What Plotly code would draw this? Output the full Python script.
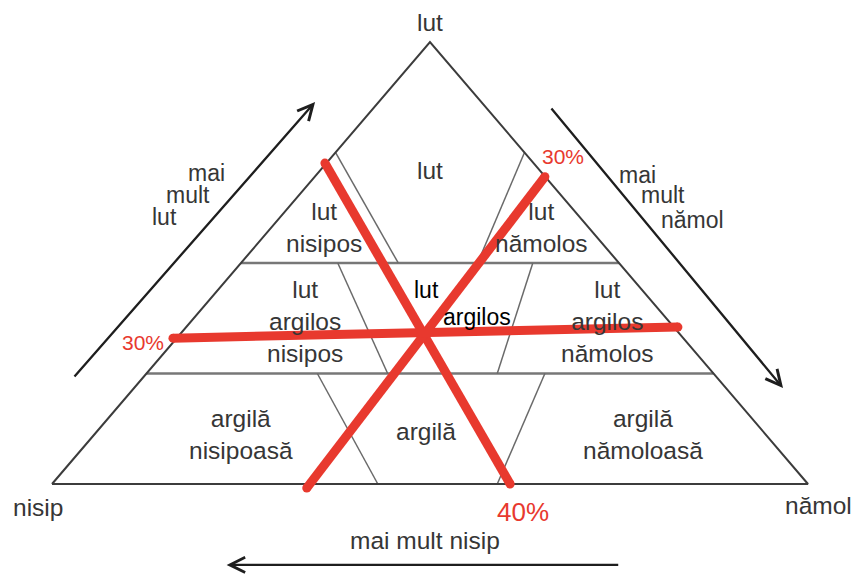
import plotly.graph_objects as go

# diagram units: base runs 0..100 (nisip -> nămol), height 0..100 (up to "lut")
triangle_x = [0, 50, 100, 0]
triangle_y = [0, 100, 0, 0]

# horizontal class boundaries (heights)
band_levels = [25, 50]

# sloping class boundaries (top point -> bottom point)
edge_x0 = [37.5, 62.5, 37.8, 63.6, 35.1, 65.2]
edge_y0 = [75, 75, 50, 50, 25, 25]
edge_x1 = [45.8, 56.3, 44.4, 58.9, 43.1, 58.9]
edge_y1 = [50, 50, 25, 25, 0, 0]

# red reading lines drawn over the diagram
red_x0 = [36.1, 65.2, 16.0]
red_y0 = [72.6, 69.5, 33.0]
red_x1 = [60.6, 33.7, 82.8]
red_y1 = [0.0, -0.9, 35.5]

# soil class names
class_text = ["lut", "lut<br>nisipos", "lut<br>nămolos", "lut<br>argilos<br>nisipos",
              "lut<br>argilos<br>nămolos", "argilă<br>nisipoasă", "argilă", "argilă<br>nămoloasă"]
class_x = [50.0, 36.0, 64.8, 33.5, 73.5, 25.0, 49.5, 78.2]
class_y = [71.0, 58.1, 58.1, 36.7, 36.7, 11.1, 11.8, 11.1]

# corner names
corner_text = ["lut", "nisip", "nămol"]
corner_x = [50.0, -1.9, 101.4]
corner_y = [104.5, -5.4, -4.8]

# "mai mult ..." words
side_text = ["mai", "mult", "lut", "mai", "mult", "nămol"]
side_x = [20.5, 18.0, 14.9, 77.5, 80.8, 84.7]
side_y = [70.4, 65.4, 60.4, 69.9, 65.4, 59.7]

# arrows: tail -> head
arrow_x0 = [2.8, 65.9, 75.1]
arrow_y0 = [24.0, 85.3, -18.3]
arrow_x1 = [34.8, 96.7, 23.1]
arrow_y1 = [86.4, 21.7, -18.3]

# red percentage marks
pct_text = ["30%", "30%", "40%"]
pct_x = [12.0, 67.6, 62.3]
pct_y = [32.1, 74.0, -6.3]
pct_size = [21, 21, 26]

GREY_TXT = "#363636"
RED = "#E8392E"
FONT = "Liberation Sans, Arial, sans-serif"
TXT = 24.5

fig = go.Figure()

# inner boundaries
for lv in band_levels:
    fig.add_trace(go.Scatter(x=[lv / 2, 100 - lv / 2], y=[lv, lv], mode="lines",
                             line=dict(color="#777777", width=2.4), hoverinfo="skip"))
for i in range(len(edge_x0)):
    fig.add_trace(go.Scatter(x=[edge_x0[i], edge_x1[i]], y=[edge_y0[i], edge_y1[i]], mode="lines",
                             line=dict(color="#6a6a6a", width=1.5), hoverinfo="skip"))

# outer triangle
fig.add_trace(go.Scatter(x=triangle_x, y=triangle_y, mode="lines",
                         line=dict(color="#3c3c3c", width=2), hoverinfo="skip"))

# labels
for t, x, y in zip(class_text, class_x, class_y):
    fig.add_annotation(x=x, y=y, text=t, showarrow=False,
                       font=dict(family=FONT, size=TXT, color=GREY_TXT))
fig.add_annotation(x=49.6, y=43.9, text="lut", showarrow=False,
                   font=dict(family=FONT, size=23, color="#000000"))
fig.add_annotation(x=56.2, y=37.8, text="argilos", showarrow=False,
                   font=dict(family=FONT, size=23, color="#000000"))

# red lines
for i in range(len(red_x0)):
    fig.add_trace(go.Scatter(x=[red_x0[i], red_x1[i]], y=[red_y0[i], red_y1[i]], mode="lines+markers",
                             line=dict(color=RED, width=9), marker=dict(color=RED, size=9),
                             hoverinfo="skip"))

for t, x, y in zip(corner_text, corner_x, corner_y):
    fig.add_annotation(x=x, y=y, text=t, showarrow=False,
                       font=dict(family=FONT, size=TXT, color=GREY_TXT))
for t, x, y in zip(side_text, side_x, side_y):
    fig.add_annotation(x=x, y=y, text=t, showarrow=False,
                       font=dict(family=FONT, size=23, color=GREY_TXT))
fig.add_annotation(x=49.3, y=-12.7, text="mai mult nisip", showarrow=False,
                   font=dict(family=FONT, size=TXT, color=GREY_TXT))
for t, x, y, s in zip(pct_text, pct_x, pct_y, pct_size):
    fig.add_annotation(x=x, y=y, text=t, showarrow=False,
                       font=dict(family=FONT, size=s, color=RED))

for i in range(len(arrow_x0)):
    fig.add_annotation(x=arrow_x1[i], y=arrow_y1[i], ax=arrow_x0[i], ay=arrow_y0[i],
                       xref="x", yref="y", axref="x", ayref="y", text="",
                       showarrow=True, arrowhead=5, arrowsize=1.3, arrowwidth=2.3,
                       arrowcolor="#1e1e1e", standoff=0, startstandoff=0)

# the page body adds an 8px margin, so the figure is 8px smaller and the ranges start there
fig.update_xaxes(range=[-5.82, 106.75], visible=False, fixedrange=True)
fig.update_yaxes(range=[-20.59, 107.69], visible=False, fixedrange=True)
fig.update_layout(width=851, height=567, margin=dict(l=0, r=0, t=0, b=0),
                  showlegend=False, plot_bgcolor="white", paper_bgcolor="white")

fig.write_html("out.html")
